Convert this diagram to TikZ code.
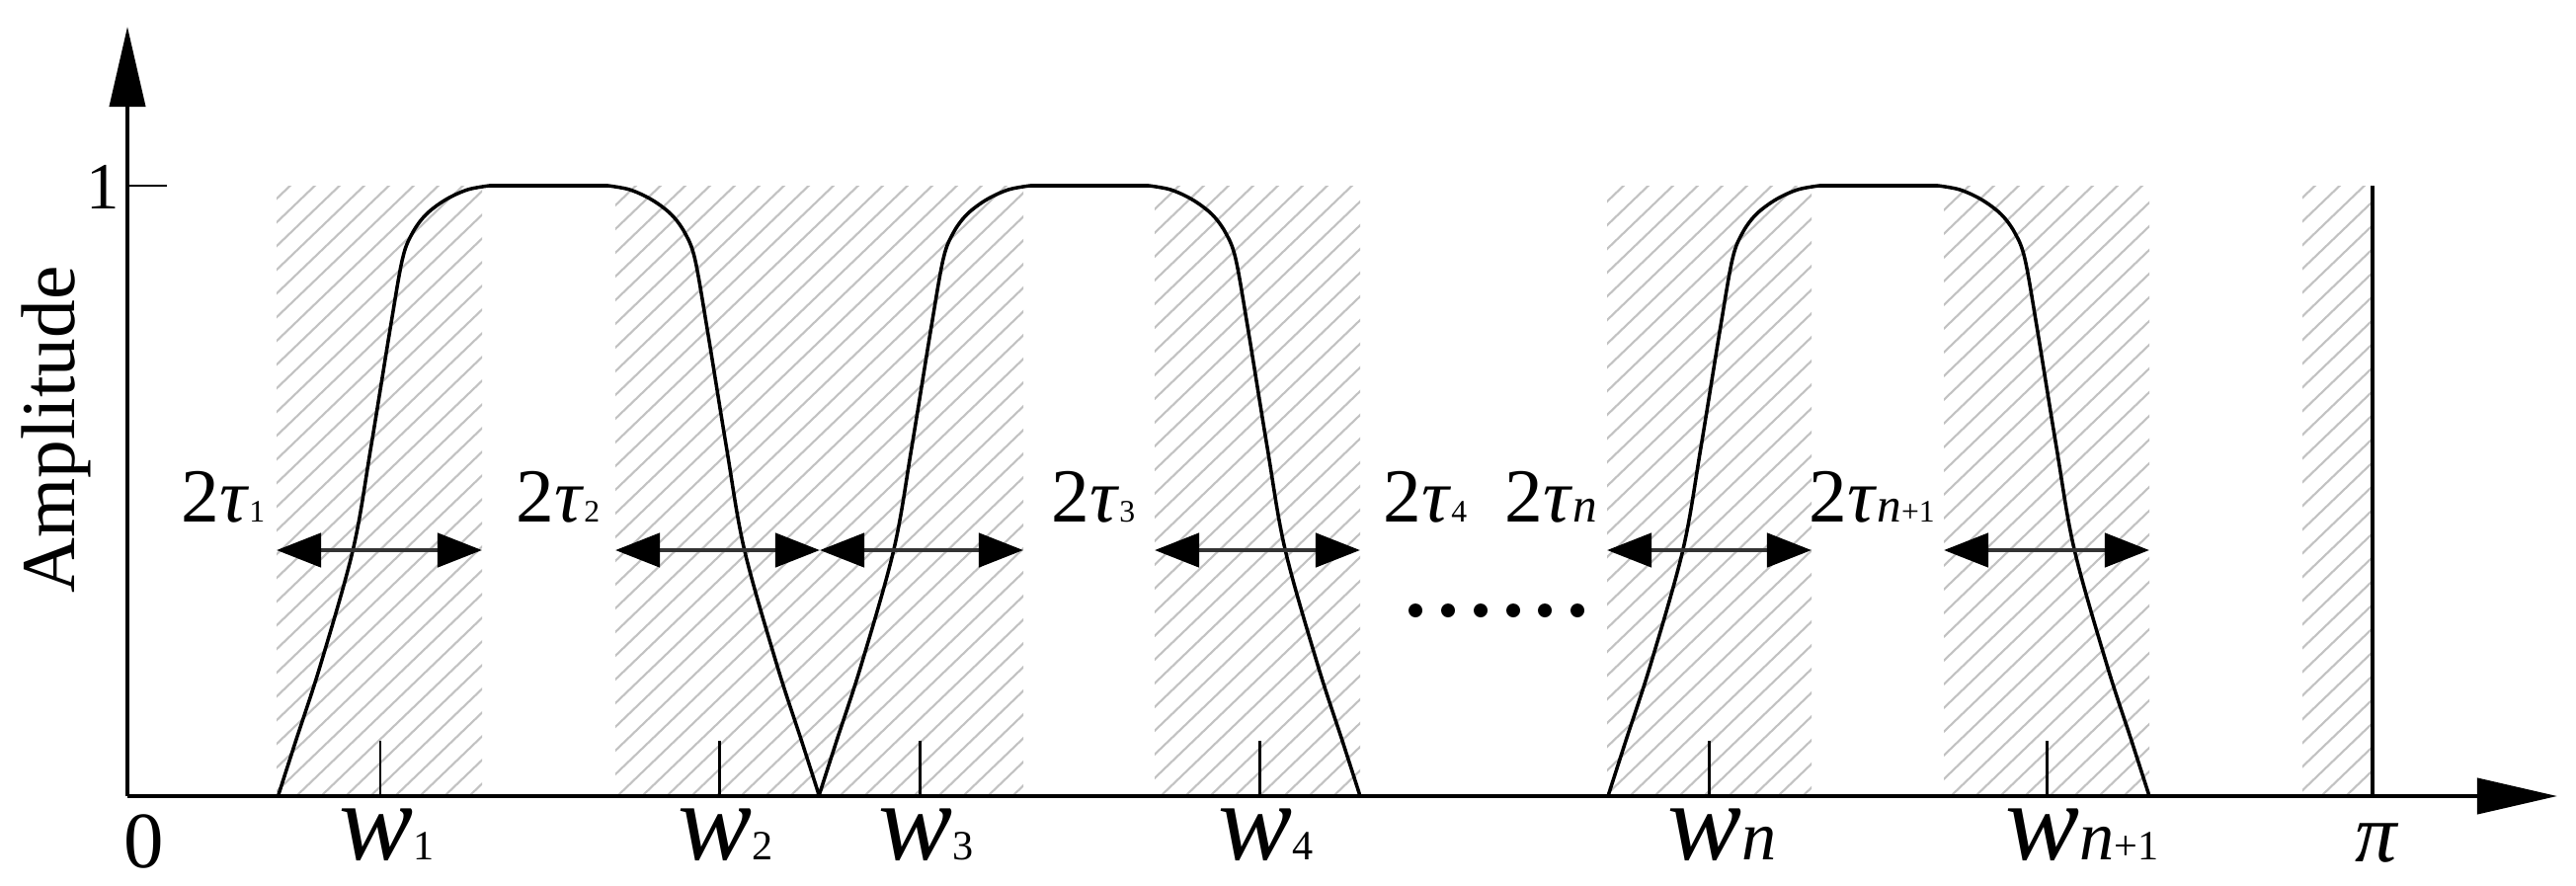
\documentclass[tikz,border=0pt]{standalone}
\usepackage{fontspec}
\setmainfont{Liberation Serif}
\usetikzlibrary{arrows.meta}
\newcommand\mytausub[1]{{\fontsize{9}{9}\selectfont #1}}
\newcommand\mytaun{{\fontsize{14}{14}\selectfont\itshape n}}
\newcommand\mytwotau{2\textit{τ}}
\newcommand\mywlab[1]{{\fontsize{32}{32}\selectfont\itshape w}\rlap{#1}}
\newcommand\mywsub[1]{{\fontsize{12}{12}\selectfont #1}}
\newcommand\mywn{{\fontsize{20}{20}\selectfont\itshape n}}
\newcommand\mypulse[1]{%
\draw[curve] plot[smooth,tension=0.55] coordinates {({#1-274},806) ({#1-256},750) ({#1-231},673) ({#1-198},556) ({#1-180},453) ({#1-160},330) ({#1-148},262) ({#1-138},236) ({#1-124},217) ({#1-104},202) ({#1-82},192) ({#1-60},188)}
 -- plot[smooth,tension=0.55] coordinates {({#1+60},188) ({#1+82},192) ({#1+104},202) ({#1+124},217) ({#1+138},236) ({#1+148},262) ({#1+160},330) ({#1+180},453) ({#1+198},556) ({#1+231},673) ({#1+256},750) ({#1+274},806)};}
\begin{document}
\begin{tikzpicture}[x=0.01cm,y=-0.01cm,
  curve/.style={line width=1.0pt, line join=round},
  axis/.style={line width=1.15pt, -{Triangle[length=0.81cm,width=0.36cm]}},
  hline/.style={line width=0.6pt, draw=black!24},
  darrow/.style={line width=1.3pt, draw=black!80, {Triangle[length=0.45cm,width=0.34cm,color=black]}-{Triangle[length=0.45cm,width=0.34cm,color=black]}},
  tickl/.style={line width=0.85pt},
  lab/.style={inner sep=0pt, font=\fontsize{22}{22}\selectfont}]
\useasboundingbox (0,0) rectangle (2608,897);
% hatched bands
\foreach \a/\b [count=\i] in {280/488,623/830,830/1036,1169/1377,1627/1834,1968/2176,2331/2402}{
  \coordinate (hl\i) at (\a,557);
  \coordinate (hr\i) at (\b,557);
  \begin{scope}
    \clip (\a,188) rectangle (\b,806);
    \foreach \k in {-28,...,105} \draw[hline] ({\k*25},806) -- ++(700,-672);
  \end{scope}
}
% pulses
\mypulse{555.5}
\mypulse{1103}
\mypulse{1902}
% ticks on the frequency axis
\foreach \t [count=\i] in {385,728,931,1275,1730,2072}{
  \coordinate (tk\i) at (\t,806);
  \draw[tickl] (tk\i) -- ++(0,-56);
}
% pi line
\coordinate (pib) at (2402,806);
\coordinate (pit) at (2402,188);
\draw[line width=0.95pt] (pib) -- (pit);
% axes
\coordinate (O) at (129,806);
\coordinate (ytip) at (129,27);
\coordinate (xtip) at (2589,806);
\draw[axis] (O) -- (ytip);
\draw[axis] (O) -- (xtip);
\coordinate (one) at (129,188);
\draw[tickl] (one) -- ++(40,0);
% double arrows
\foreach \i in {1,...,6} \draw[darrow] (hl\i) -- (hr\i);
% dots
\foreach \x [count=\i] in {1433,1466,1499,1532,1564,1597} \fill (\x,618) circle[radius=7];
% labels
\node[lab, anchor=base] (l1) at (104,211) {\fontsize{19}{19}\selectfont 1};
\node[lab, anchor=base] (l0) at (146,878) {\fontsize{23}{23}\selectfont 0};
\node[lab, anchor=base] (lpi) at (2406,872) {\fontsize{24}{24}\selectfont\itshape π};
\node[lab, anchor=base, rotate=90] (amp) at (75,435) {Amplitude};
\node[lab, anchor=base west] (t1) at (183,528) {\mytwotau\mytausub{1}};
\node[lab, anchor=base west] (t2) at (522,528) {\mytwotau\mytausub{2}};
\node[lab, anchor=base west] (t3) at (1064,528) {\mytwotau\mytausub{3}};
\node[lab, anchor=base west] (t4) at (1400,528) {\mytwotau\mytausub{4}};
\node[lab, anchor=base west] (tn) at (1523,528) {\mytwotau\mytaun};
\node[lab, anchor=base west] (tn1) at (1831,528) {\mytwotau\mytaun\mytausub{+1}};
\node[lab, anchor=base] (w1) at (381,870) {\mywlab{\mywsub{1}}};
\node[lab, anchor=base] (w2) at (724,870) {\mywlab{\mywsub{2}}};
\node[lab, anchor=base] (w3) at (927,870) {\mywlab{\mywsub{3}}};
\node[lab, anchor=base] (w4) at (1271,870) {\mywlab{\mywsub{4}}};
\node[lab, anchor=base] (wn) at (1726,870) {\mywlab{\mywn}};
\node[lab, anchor=base] (wn1) at (2068,870) {\mywlab{\mywn\mywsub{+1}}};
\end{tikzpicture}
\end{document}
